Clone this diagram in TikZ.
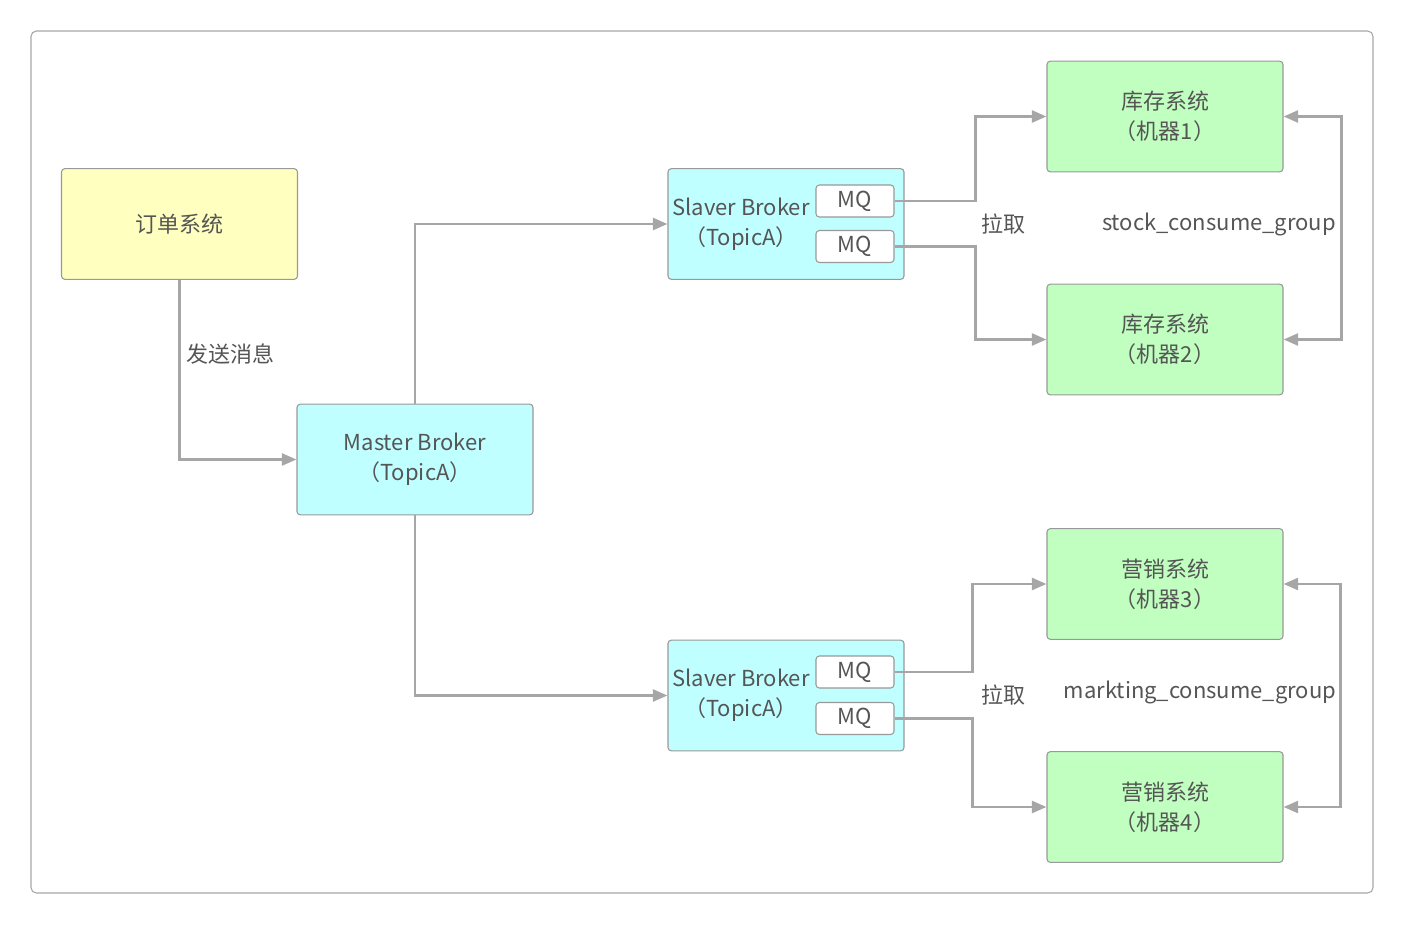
\documentclass[tikz,border=0pt]{standalone}
\usepackage{fontspec}
\setmainfont{Noto Sans CJK SC}
\usetikzlibrary{positioning,arrows.meta}

\definecolor{lineGray}{HTML}{A6A6A6}
\definecolor{textGray}{HTML}{555555}
\definecolor{boxYellow}{HTML}{FFFFC0}
\definecolor{boxCyan}{HTML}{C0FFFF}
\definecolor{boxGreen}{HTML}{C0FFC0}

\begin{document}
\begin{tikzpicture}[x=0.75pt,y=-0.75pt]

    %
    % Styles for systems, brokers and flows
    %
    \tikzstyle{boxName} = [align=center, font={\fontsize{16.5}{22.5}\selectfont}, text=textGray]
    \tikzstyle{bbox} = [draw=black!40, line width=0.8pt, rectangle, rounded corners=2.5pt,
                          minimum height=83pt, minimum width=177pt]
    \tikzstyle{orderBox} = [bbox, boxName, fill=boxYellow]
    \tikzstyle{brokerBox} = [bbox, boxName, fill=boxCyan]
    \tikzstyle{consumerBox} = [bbox, boxName, fill=boxGreen]
    \tikzstyle{queueBox} = [draw=black!40, line width=0.8pt, fill=white, rounded corners=2.5pt,
                          minimum width=58.5pt, minimum height=24pt, boxName]
    \tikzstyle{dataFlow} = [draw=lineGray, line width=2pt, -{Triangle[length=11pt,width=9pt]}];
    \tikzstyle{groupFlow} = [dataFlow, {Triangle[length=11pt,width=9pt]}-{Triangle[length=11pt,width=9pt]}];
    \tikzstyle{flowLabel} = [boxName];

    \useasboundingbox (0,0) rectangle (1404,925);
    \draw[draw=black!35, line width=0.8pt, rounded corners=4pt] (31,31) rectangle (1373,893);

    %
    % Position nodes
    %
    \node[orderBox, name=order] at (179.5,224) {订单系统};
    \node[brokerBox, name=master] at (415,459.5) {Master Broker\\（TopicA）};

    \node[brokerBox, name=slaverA] at (786,224) {};
    \node[boxName, name=slaverAText] at (741,224) {Slaver Broker\\（TopicA）};
    \node[queueBox, name=mqA1] at (855,201) {MQ};
    \node[queueBox, name=mqA2] at (855,246.5) {MQ};

    \node[brokerBox, name=slaverB] at (786,695.5) {};
    \node[boxName, name=slaverBText] at (741,695.5) {Slaver Broker\\（TopicA）};
    \node[queueBox, name=mqB1] at (855,672) {MQ};
    \node[queueBox, name=mqB2] at (855,718.5) {MQ};

    \node[consumerBox, name=stock1] at (1165,116.5) {库存系统\\（机器1）};
    \node[consumerBox, name=stock2] at (1165,339.5) {库存系统\\（机器2）};
    \node[consumerBox, name=market3] at (1165,584) {营销系统\\（机器3）};
    \node[consumerBox, name=market4] at (1165,807) {营销系统\\（机器4）};

    %
    % Connect nodes via flows
    %
    \draw[dataFlow] (order.south) |- (master.west);
    \node[flowLabel, anchor=west, name=sendLabel] at (182,354) {发送消息};

    \draw[dataFlow] (master.north) |- (slaverA.west);
    \draw[dataFlow] (master.south) |- (slaverB.west);

    \draw[dataFlow] (mqA1.east) -- ++(81,0) |- (stock1.west);
    \draw[dataFlow] (mqA2.east) -- ++(81,0) |- (stock2.west);
    \draw[dataFlow] (mqB1.east) -- ++(78,0) |- (market3.west);
    \draw[dataFlow] (mqB2.east) -- ++(78,0) |- (market4.west);
    \node[flowLabel, name=pullA] at (1003,224) {拉取};
    \node[flowLabel, name=pullB] at (1003,695) {拉取};

    \draw[groupFlow] (stock1.east) -- ++(58,0) |- (stock2.east);
    \draw[groupFlow] (market3.east) -- ++(57,0) |- (market4.east);
    \node[flowLabel, name=stockGroup] at (1219,224) {stock\_consume\_group};
    \node[flowLabel, name=marketGroup] at (1200,692) {markting\_consume\_group};
  \end{tikzpicture}
\end{document}
